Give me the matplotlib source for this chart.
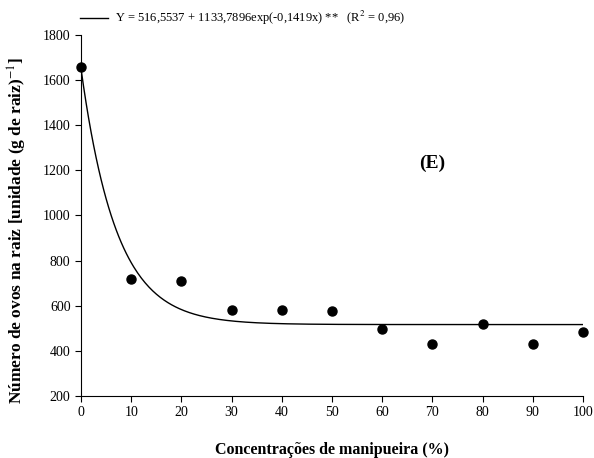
import numpy as np
import matplotlib
matplotlib.use("Agg")
import matplotlib.pyplot as plt

plt.rcParams['font.family'] = ['Liberation Serif', 'DejaVu Serif']
plt.rcParams['mathtext.fontset'] = 'stix'

conc = [0, 10, 20, 30, 40, 50, 60, 70, 80, 90, 100]
ovos = [1660, 719, 710, 581, 581, 577, 497, 432, 520, 432, 482]
a, b, c = 516.5537, 1133.7896, -0.1419
xticks = [0, 10, 20, 30, 40, 50, 60, 70, 80, 90, 100]
yticks = [200, 400, 600, 800, 1000, 1200, 1400, 1600, 1800]

fig = plt.figure(figsize=(5.94, 4.58), dpi=100)
ax = fig.add_axes([0.1364, 0.1354, 0.8451, 0.7882])

xf = np.linspace(0, 100, 400)
line, = ax.plot(xf, a + b * np.exp(c * xf), color='black', lw=1.0,
                label='Y = 516,5537 + 1133,7896exp(-0,1419x) **   (R$^2$ = 0,96)')
ax.plot(conc, ovos, 'o', color='black', ms=6.5, clip_on=False, zorder=3)

ax.set_xlim(0, 100)
ax.set_ylim(200, 1800)
ax.set_xticks(xticks)
ax.set_yticks(yticks)
for s in ['top', 'right']:
    ax.spines[s].set_visible(False)
ax.tick_params(direction='out', length=4, labelsize=10)

ax.set_xlabel('Concentrações de manipueira (%)', fontsize=11.5, fontweight='bold', labelpad=16)
ax.set_ylabel('Número de ovos na raiz [unidade (g de raiz)$^{-1}$]', fontsize=12.5,
              fontweight='bold')
ax.yaxis.set_label_coords(-0.104, 0.46)
ax.text(70, 1230, '(E)', fontsize=14, fontweight='bold', ha='center', va='center')

ax.legend(handles=[line], loc='center left', bbox_to_anchor=(-0.002, 1.047), frameon=False,
          fontsize=9, handlelength=2.24, handletextpad=0.56, borderaxespad=0, borderpad=0)

fig.savefig('out.png', dpi=100)
